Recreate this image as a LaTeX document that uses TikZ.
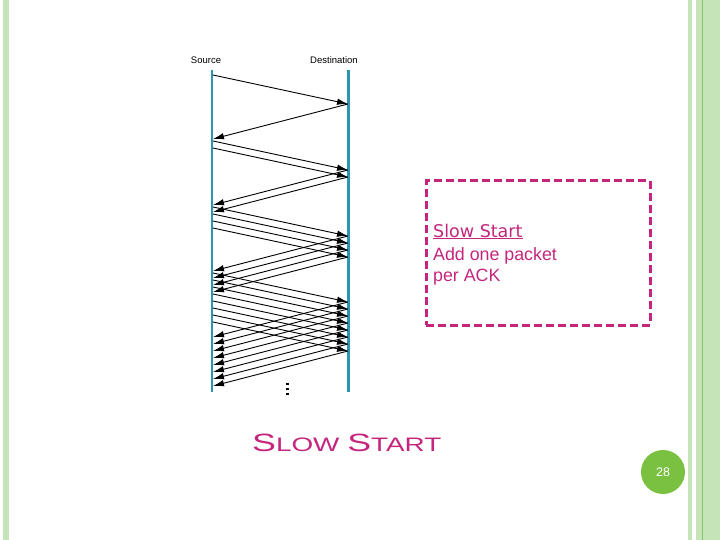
\documentclass[tikz,border=0pt]{standalone}
\usepackage{fontspec}
\usepackage{graphicx}
\setmainfont{Liberation Sans}
\newfontfamily\dejavu{DejaVu Sans}
\usetikzlibrary{arrows.meta}
\definecolor{tealline}{RGB}{42,150,176}
\definecolor{mag}{RGB}{196,38,125}
\definecolor{lgreen}{RGB}{197,228,183}
\definecolor{dgreen}{RGB}{135,198,105}
\definecolor{pgreen}{RGB}{122,193,66}
\begin{document}
\begin{tikzpicture}[x=1pt,y=-1pt,
  timeline/.style={draw=tealline, line width=2.6pt},
  msg/.style={draw=black, line width=0.9pt, -{Latex[length=11pt,width=6.5pt]}},
  lbl/.style={font=\fontsize{9.5}{11}\selectfont, anchor=base, inner sep=0pt},
  boxtext/.style={text=mag, anchor=base west, inner sep=0pt, font=\fontsize{17.8}{20}\selectfont},
  notebox/.style={draw=mag, line width=3pt, dash pattern=on 8pt off 4pt, minimum width=224pt, minimum height=144pt, inner sep=0pt},
  strip/.style={fill=lgreen, draw=none}]
\useasboundingbox (0,0) rectangle (720,540);
% borders
\fill[strip] (3,0) rectangle (9,540);
\fill[strip] (688,0) rectangle (692,540);
\fill[strip] (696,0) rectangle (720,540);
\draw[dgreen, line width=1pt] (702.5,0) -- (702.5,540);
% labels
\node[lbl] (srclbl) at (206,64) {Source};
\node[lbl] (dstlbl) at (334,64) {Destination};
% timelines
\coordinate (srcTop) at (212,70);
\coordinate (srcBot) at (212,392);
\coordinate (dstTop) at (348.5,70);
\coordinate (dstBot) at (348.5,392);
\draw[timeline] (srcTop) -- (srcBot);
\draw[timeline] (dstTop) -- (dstBot);
% packets and acks
\foreach \s [count=\i] in {75,141,148,207,214,221,228,273,280,287,294,301,308,315,322} {
  \pgfmathsetmacro\a{\s+29}
  \pgfmathsetmacro\b{\s+64}
  \coordinate (ps\i) at (213,\s);
  \coordinate (pd\i) at (348,\a);
  \coordinate (as\i) at (213,\b);
  \draw[msg] (ps\i) -- (pd\i);
  \draw[msg] (pd\i) -- (as\i);
}
% continuation dots
\foreach \y [count=\j] in {384,389,394} {
  \fill[black] (285.5,\y-1.2) rectangle (288.5,\y+1.2);
}
% note box
\node[notebox] (note) at (538,253) {};
\node[boxtext, font=\dejavu\fontsize{17.5}{20}\selectfont] (t1) at (433,237) {\underline{Slow Start}};
\node[boxtext] (t2) at (433,260) {Add one packet};
\node[boxtext] (t3) at (433,281) {per ACK};
% title
\node[anchor=base west, inner sep=0pt, text=mag] (title) at (252,451)
  {\scalebox{1.43}[1]{\fontsize{25}{28}\selectfont S\fontsize{19.5}{22}\selectfont LOW \fontsize{25}{28}\selectfont S\fontsize{19.5}{22}\selectfont TART}};
% page number
\node[circle, fill=pgreen, minimum size=44pt, inner sep=0pt, text=white, font=\fontsize{12.5}{14}\selectfont] (page) at (663,472) {28};
\end{tikzpicture}
\end{document}
